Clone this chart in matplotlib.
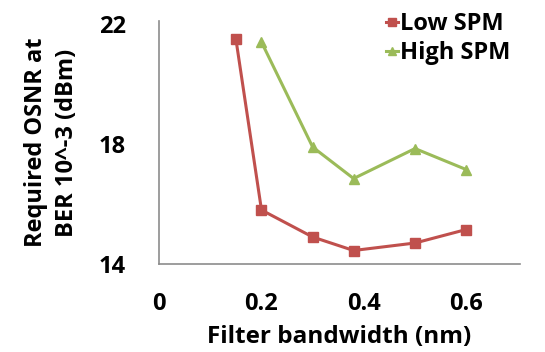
import matplotlib
matplotlib.use("Agg")
import matplotlib.pyplot as plt

# Required OSNR vs. optical filter bandwidth
low_bw = [0.15, 0.2, 0.3, 0.38, 0.5, 0.6]
low_osnr = [21.5, 15.8, 14.9, 14.45, 14.7, 15.15]
high_bw = [0.2, 0.3, 0.38, 0.5, 0.6]
high_osnr = [21.4, 17.9, 16.85, 17.85, 17.15]
x_ticks = [0, 0.2, 0.4, 0.6]
x_tick_labels = ["0", "0.2", "0.4", "0.6"]
y_ticks = [14, 18, 22]

plt.rcParams['font.family'] = ['Open Sans', 'DejaVu Sans']
plt.rcParams['font.weight'] = 'bold'

fig = plt.figure(figsize=(5.45, 3.52), dpi=100)
ax = fig.add_axes([0.292, 0.25, 0.662, 0.69])

red = '#C0504D'
green = '#9BBB59'
ax.plot(low_bw, low_osnr, color=red, lw=2.2, marker='s', ms=7, label='Low SPM')
ax.plot(high_bw, high_osnr, color=green, lw=2.2, marker='^', ms=7, label='High SPM')

ax.set_xlim(0, 0.705)
ax.set_ylim(14, 22.1)
ax.set_xticks(x_ticks)
ax.set_xticklabels(x_tick_labels)
ax.set_yticks(y_ticks)
ax.tick_params(axis='both', length=0, labelsize=17)
ax.tick_params(axis='x', pad=20)
ax.tick_params(axis='y', pad=24)
for lab in ax.get_xticklabels() + ax.get_yticklabels():
    lab.set_fontweight('bold')

for s in ['top', 'right']:
    ax.spines[s].set_visible(False)
for s in ['left', 'bottom']:
    ax.spines[s].set_color('#8c8c8c')
    ax.spines[s].set_linewidth(1.2)

ax.set_xlabel('Filter bandwidth (nm)', fontsize=17.5, fontweight='bold', labelpad=7)
ax.set_ylabel('Required OSNR at\nBER 10^-3 (dBm)', fontsize=17, fontweight='bold',
              labelpad=14, linespacing=1.4)

leg = ax.legend(loc='upper right', bbox_to_anchor=(1.0, 1.075), frameon=False,
                fontsize=17, handlelength=0.5, handletextpad=0.1,
                borderaxespad=0, labelspacing=0.2, markerscale=0.9)
for t in leg.get_texts():
    t.set_fontweight('bold')

fig.savefig('out.png', dpi=100)
